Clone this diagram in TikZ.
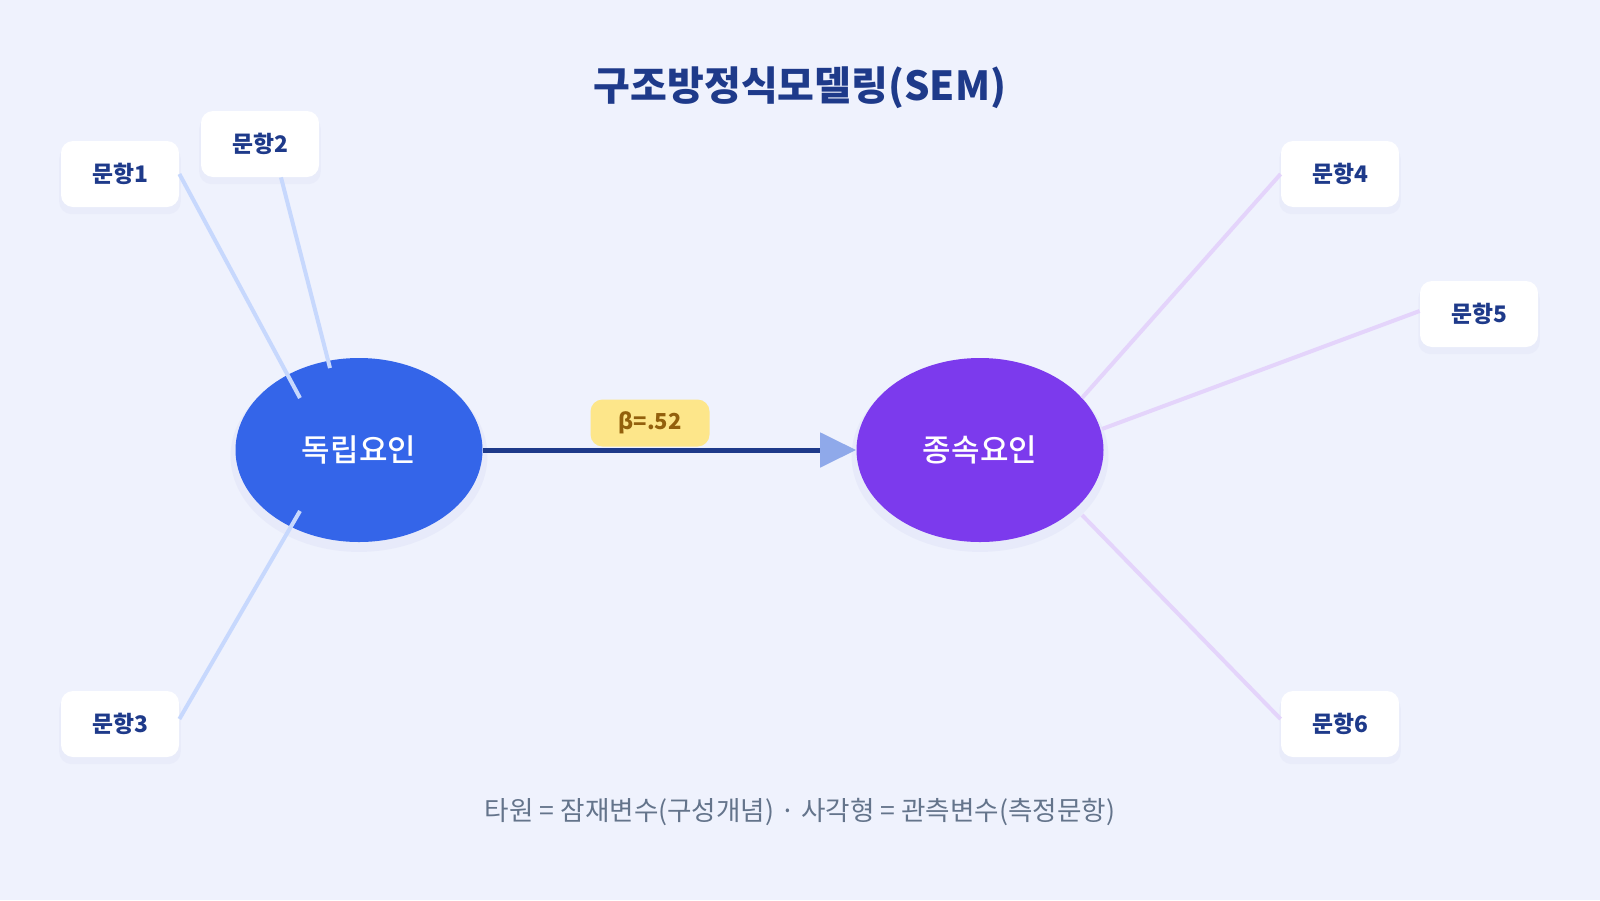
\documentclass[tikz,border=0pt]{standalone}
\usepackage{fontspec}
\setmainfont{Noto Sans CJK KR}
\newfontfamily\krmed{Noto Sans CJK KR Medium}
\usetikzlibrary{shapes.geometric,arrows.meta,shadows}
\definecolor{bgc}{HTML}{EFF2FD}
\definecolor{navy}{HTML}{1E3A8A}
\definecolor{indepc}{HTML}{3465E9}
\definecolor{depc}{HTML}{7C3AED}
\definecolor{leftln}{HTML}{C7D8FD}
\definecolor{rightln}{HTML}{E4D4FB}
\definecolor{tipc}{HTML}{8FA9EA}
\definecolor{betafill}{HTML}{FDE68A}
\definecolor{betatext}{HTML}{93600C}
\definecolor{notec}{HTML}{64748B}
\definecolor{shadc}{HTML}{9AA4DC}
\begin{document}
\begin{tikzpicture}[x=0.5pt,y=-0.5pt,
    factor/.style={ellipse,minimum width=123.5pt,minimum height=92pt,inner sep=0pt,
        text=white,font=\krmed\fontsize{15.5}{18}\selectfont,
        drop shadow={shadow xshift=0pt,shadow yshift=-3pt,shadow scale=1.04,opacity=0.09,fill=shadc}},
    item/.style={fill=white,rounded corners=6pt,minimum width=59pt,minimum height=33pt,
        text=navy,font=\fontsize{11.4}{13}\selectfont\bfseries,
        drop shadow={shadow xshift=0pt,shadow yshift=-3pt,shadow scale=1.03,opacity=0.07,fill=shadc}},
    lline/.style={leftln,line width=2pt},
    rline/.style={rightln,line width=2pt}]
    \useasboundingbox[fill=bgc] (0,0) rectangle (1600,900);
    \node (title) at (800,88) {\fontsize{20}{24}\selectfont\bfseries\color{navy}구조방정식모델링(SEM)};
    \node [factor,fill=indepc] (indep) at (359,450) {독립요인};
    \node [factor,fill=depc] (dep) at (980,450) {종속요인};
    \draw [navy,line width=2.5pt,-{Triangle[color=tipc,length=18pt,width=17pt]}] (indep.east) -- (dep.west);
    \node [fill=betafill,rounded corners=6pt,minimum width=59.5pt,minimum height=23.5pt,
        text=betatext,font=\fontsize{11}{13}\selectfont\bfseries] (beta) at (650,423) {β=.52};
    \coordinate (end1) at (300,398);
    \coordinate (end2) at (330,368);
    \coordinate (end3) at (300,511);
    \coordinate (end4) at (1082,398);
    \coordinate (end5) at (1102,429);
    \coordinate (end6) at (1082,515);
    \node [item] (item1) at (120,174) {문항1};
    \node [item] (item2) at (260,144) {문항2};
    \node [item] (item3) at (120,724) {문항3};
    \node [item] (item4) at (1340,174) {문항4};
    \node [item] (item5) at (1479,314) {문항5};
    \node [item] (item6) at (1340,724) {문항6};
    \draw [lline] (item1.east) -- (end1);
    \draw [lline] ([xshift=10.5pt]item2.south) -- (end2);
    \draw [lline] ([yshift=2.5pt]item3.east) -- (end3);
    \draw [rline] (item4.west) -- (end4);
    \draw [rline] ([yshift=1.5pt]item5.west) -- (end5);
    \draw [rline] ([yshift=2.5pt]item6.west) -- (end6);
    \node [text=notec,font=\fontsize{13.3}{15}\selectfont] (note) at (800,812) {타원 = 잠재변수(구성개념) · 사각형 = 관측변수(측정문항)};
\end{tikzpicture}
\end{document}
